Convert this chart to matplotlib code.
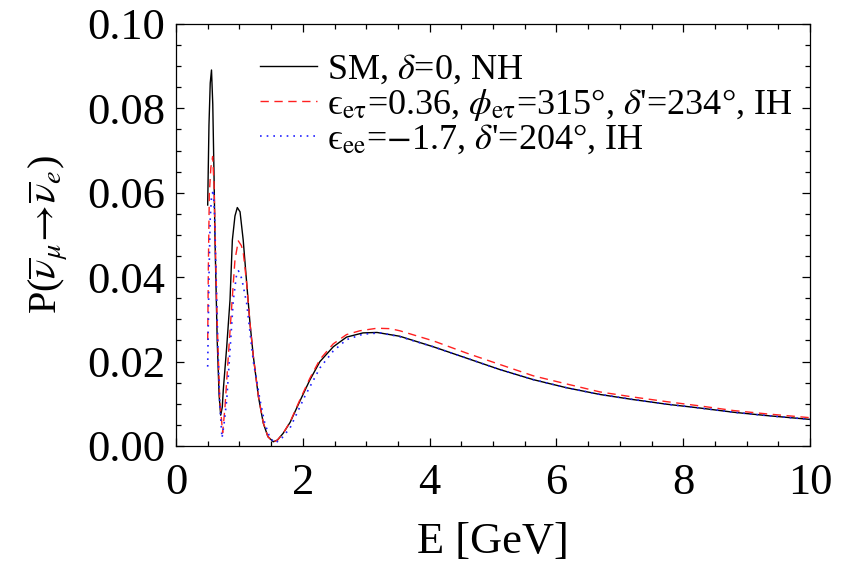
import matplotlib
matplotlib.use('Agg')
import matplotlib.pyplot as plt
from matplotlib.ticker import MultipleLocator, FormatStrFormatter

plt.rcParams['font.family'] = ['Liberation Serif', 'DejaVu Serif']
plt.rcParams['mathtext.fontset'] = 'stix'

# %% data (E in GeV, probability)

E_sm = [0.50, 0.52, 0.54, 0.56, 0.58, 0.60, 0.615, 0.65, 0.68, 0.705, 0.73, 0.746,
        0.80, 0.852, 0.889, 0.93, 0.967, 1.01, 1.06, 1.115, 1.167, 1.22, 1.30,
        1.377, 1.45, 1.535, 1.60, 1.69, 1.80, 1.956, 2.11, 2.27, 2.48, 2.69,
        2.95, 3.17, 3.53, 4.06, 4.585, 5.11, 5.64, 6.16, 6.69, 7.21, 7.74,
        8.26, 8.79, 9.32, 10.0]
P_sm = [0.0571, 0.0760, 0.0860, 0.0891, 0.0810, 0.0640, 0.0490, 0.0250, 0.0120,
        0.0073, 0.0092, 0.0133, 0.0235, 0.0346, 0.0488, 0.0545, 0.0565, 0.0555,
        0.0488, 0.0386, 0.0291, 0.0212, 0.0117, 0.0054, 0.0022, 0.0010, 0.0014,
        0.0030, 0.0056, 0.0107, 0.0156, 0.0200, 0.0235, 0.0258, 0.0268, 0.0269,
        0.0260, 0.0235, 0.0208, 0.0181, 0.0157, 0.0138, 0.0122, 0.0110, 0.0099,
        0.0090, 0.0080, 0.0072, 0.0063]

E_et = [0.50, 0.51, 0.526, 0.55, 0.578, 0.60, 0.62, 0.65, 0.69, 0.736, 0.773,
        0.825, 0.878, 0.93, 0.983, 1.03, 1.06, 1.115, 1.167, 1.22, 1.30, 1.377,
        1.45, 1.535, 1.60, 1.69, 1.80, 1.956, 2.11, 2.27, 2.48, 2.69, 2.90,
        3.17, 3.38, 3.53, 4.06, 4.585, 5.11, 5.64, 6.16, 6.69, 7.21, 7.74,
        8.26, 8.79, 9.32, 10.0]
P_et = [0.0251, 0.0420, 0.0599, 0.0660, 0.0686, 0.0620, 0.0480, 0.0290, 0.0110,
        0.0031, 0.0093, 0.0212, 0.0330, 0.0441, 0.0486, 0.0475, 0.0460, 0.0385,
        0.0291, 0.0212, 0.0117, 0.0055, 0.0022, 0.0009, 0.0014, 0.0030, 0.0057,
        0.0110, 0.0160, 0.0205, 0.0242, 0.0264, 0.0273, 0.0279, 0.0278, 0.0273,
        0.0249, 0.0220, 0.0193, 0.0166, 0.0147, 0.0128, 0.0116, 0.0105, 0.0095,
        0.0084, 0.0076, 0.0067]

E_ee = [0.50, 0.52, 0.54, 0.56, 0.589, 0.61, 0.63, 0.66, 0.69, 0.726, 0.76,
        0.80, 0.852, 0.904, 0.957, 0.985, 1.036, 1.115, 1.22, 1.325, 1.40, 1.48,
        1.56, 1.65, 1.80, 2.03, 2.27, 2.48, 2.69, 2.95, 3.22, 3.53, 4.06,
        4.585, 5.11, 5.64, 6.16, 6.69, 7.21, 7.74, 8.26, 8.79, 9.32, 10.0]
P_ee = [0.0188, 0.0400, 0.0540, 0.0590, 0.0607, 0.0540, 0.0420, 0.0240, 0.0100,
        0.0019, 0.0055, 0.0109, 0.0227, 0.0346, 0.0408, 0.0415, 0.0397, 0.0338,
        0.0200, 0.0109, 0.0054, 0.0020, 0.0007, 0.0015, 0.0043, 0.0117, 0.0185,
        0.0225, 0.0252, 0.0265, 0.0268, 0.0259, 0.0235, 0.0208, 0.0181, 0.0157,
        0.0138, 0.0122, 0.0110, 0.0099, 0.0090, 0.0080, 0.0072, 0.0063]

labels = [r'SM, $\delta$=0, NH',
          r"ϵ$_{\rm e\tau}$=0.36, $\phi_{\rm e\tau}$=315°, $\delta$'=234°, IH",
          r"ϵ$_{\rm ee}$=$-$1.7, $\delta$'=204°, IH"]

# %% plot

fig = plt.figure(figsize=(8.56, 5.81), dpi=100)
ax = fig.add_axes([0.2056, 0.2324, 0.7407, 0.7263])

ax.plot(E_sm, P_sm, color='black', lw=1.0, label=labels[0])
ax.plot(E_et, P_et, color='#ff2020', lw=1.0, ls=(0, (6, 4)), label=labels[1])
ax.plot(E_ee, P_ee, color='#2020ff', lw=1.2, ls=(0, (1, 3)), label=labels[2])

ax.set_xlim(0, 10)
ax.set_ylim(0, 0.10)
ax.xaxis.set_major_locator(MultipleLocator(2))
ax.xaxis.set_minor_locator(MultipleLocator(0.5))
ax.yaxis.set_major_locator(MultipleLocator(0.02))
ax.yaxis.set_minor_locator(MultipleLocator(0.005))
ax.yaxis.set_major_formatter(FormatStrFormatter('%.2f'))
ax.tick_params(which='both', direction='in', top=True, right=True, labelsize=32, width=0.9)
ax.tick_params(which='major', length=6)
ax.tick_params(which='minor', length=3.5)
ax.tick_params(axis='x', which='major', pad=12)
ax.tick_params(axis='y', which='major', pad=8)
for s in ax.spines.values():
    s.set_linewidth(0.9)

ax.set_xlabel('E [GeV]', fontsize=32, labelpad=14)
ax.set_ylabel(r'P($\overline{\nu}_\mu\!\rightarrow\!\overline{\nu}_e$)', fontsize=29, labelpad=12)

ax.legend(loc='upper left', bbox_to_anchor=(0.133, 0.93), frameon=False, fontsize=26,
          handlelength=1.58, handletextpad=0.28, labelspacing=0.0, borderpad=0, borderaxespad=0)

fig.savefig('out.png', dpi=100)
